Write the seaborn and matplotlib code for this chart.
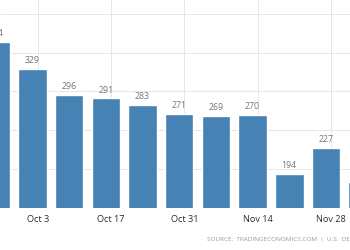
import matplotlib
matplotlib.use("Agg")
import matplotlib.pyplot as plt
import seaborn as sns
import pandas as pd

# days relative to Oct 3
days = [-8, -1, 6, 13, 20, 27, 34, 41, 48, 55, 62]
values = [364, 329, 296, 291, 283, 271, 269, 270, 194, 227, 183]
tick_days = [0, 14, 28, 42, 56]
tick_labels = ["Oct 3", "Oct 17", "Oct 31", "Nov 14", "Nov 28"]
y_ticks = [150, 200, 250, 300, 350, 400]
source = "SOURCE:  TRADINGECONOMICS.COM  |  U.S.  DEPARTMENT OF AGRICULTURE"

sns.set_style("white")
plt.rcParams['font.family'] = ['Open Sans', 'DejaVu Sans']

df = pd.DataFrame({"day": days, "value": values})

fig = plt.figure(figsize=(3.5, 2.5), dpi=100)
ax = fig.add_axes([0, 0.169, 1, 0.831])
sns.barplot(data=df, x="day", y="value", native_scale=True, width=0.78,
            color="#4682B4", saturation=1, ax=ax, zorder=2)

ax.set_xlim(-7.2, 59.6)
ax.set_ylim(150, 418)
ax.set_xticks(tick_days)
ax.set_xticklabels(tick_labels)
ax.set_yticks(y_ticks)
ax.tick_params(axis="x", length=0, pad=5, labelsize=6.6, labelcolor="#2b2b2b")
ax.tick_params(axis="y", left=False, labelleft=False)
ax.grid(True, color="#e6e6e6", linewidth=0.7, zorder=0)
ax.set_axisbelow(True)
for s in ax.spines.values():
    s.set_visible(False)
ax.set_xlabel("")
ax.set_ylabel("")

for d, v in zip(days, values):
    ax.text(d, v + 5, str(v), ha="center", va="bottom", fontsize=6.3,
            color="#777777", clip_on=True)

fig.text(207 / 350, 1 - 239 / 250, source, fontsize=4.6, color="#999999",
         ha="left", va="center")

fig.savefig("out.png", dpi=100)
